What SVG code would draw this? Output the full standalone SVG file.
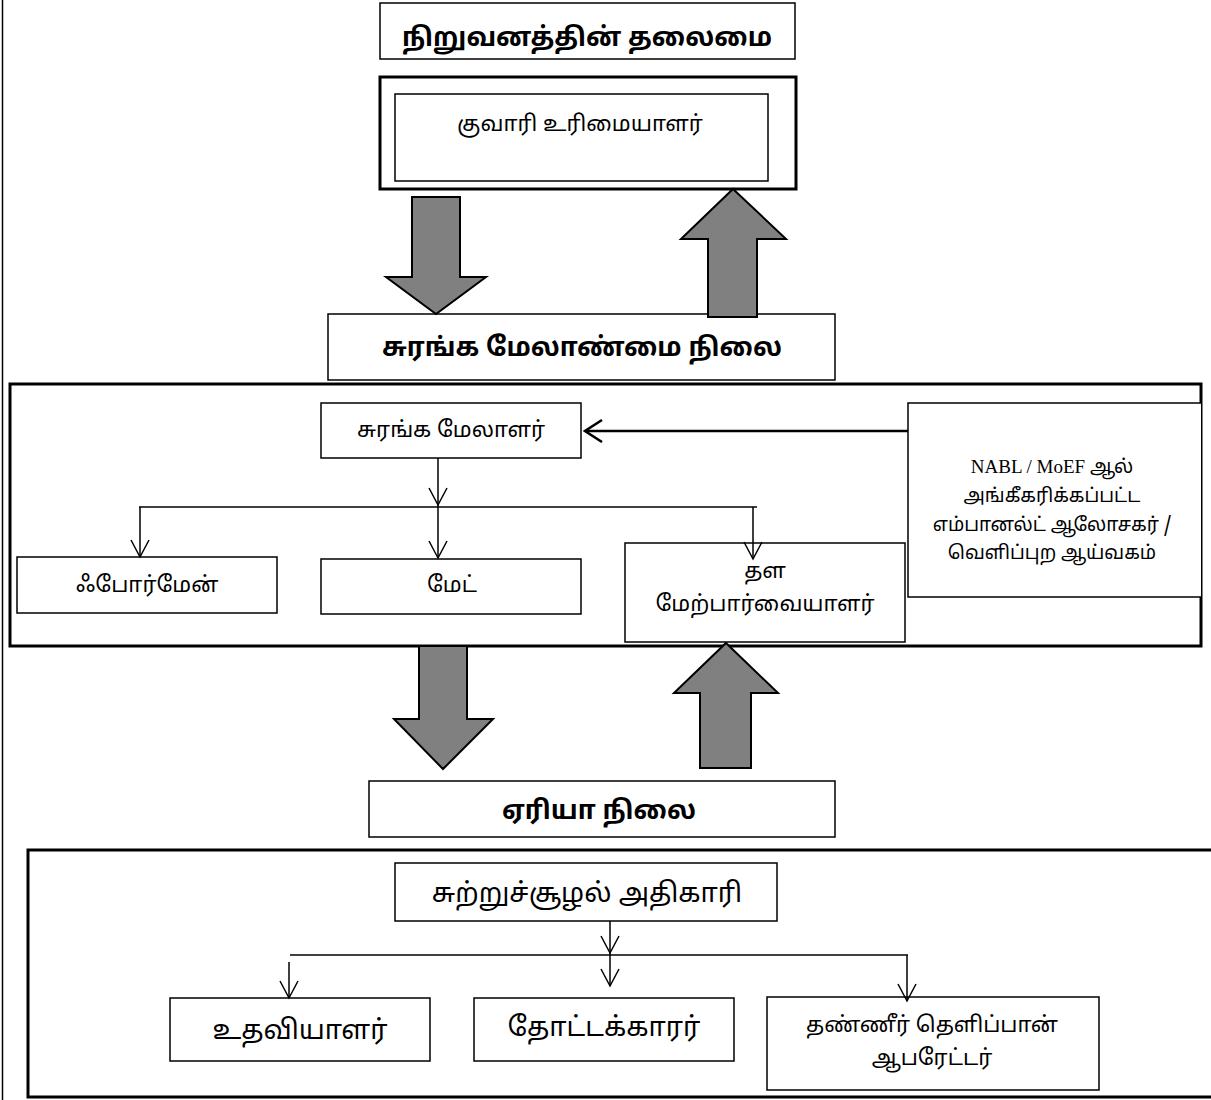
<svg xmlns="http://www.w3.org/2000/svg" width="1211" height="1100" viewBox="0 0 1211 1100">
<style>
.box{fill:#fff;stroke:#000;stroke-width:1.5}
.thick{fill:none;stroke:#000;stroke-width:3}
.ga{fill:#808080;stroke:#000;stroke-width:2}
.ln{fill:none;stroke:#000;stroke-width:1.5}
.t{font-family:'Noto Sans Tamil','Lohit Tamil','Noto Sans','DejaVu Sans',sans-serif;text-anchor:middle;fill:#000}
.b{font-weight:bold;font-size:26px}
.m{font-size:22px}
.l{font-size:27px}
.s{font-size:19px}
</style>
<defs>
<marker id="v" viewBox="0 0 20 20" refX="18" refY="10" markerWidth="20" markerHeight="20" orient="auto" markerUnits="userSpaceOnUse">
<path d="M1,1 L18,10 L1,19" fill="none" stroke="#000" stroke-width="1.5"/>
</marker>
<marker id="vb" viewBox="0 0 20 24" refX="18" refY="12" markerWidth="20" markerHeight="24" orient="auto" markerUnits="userSpaceOnUse">
<path d="M1,1 L18,12 L1,23" fill="none" stroke="#000" stroke-width="2.5"/>
</marker>
</defs>
<line x1="2.5" y1="0" x2="2.5" y2="1100" stroke="#000" stroke-width="1.5"/>

<g id="top-level">
<rect class="box" x="380" y="3" width="415" height="56"/>
<text class="t b" x="587" y="46">நிறுவனத்தின் தலைமை</text>
</g>
<g id="quarry-owner">
<rect class="thick" x="380" y="77" width="416" height="112"/>
<rect class="box" x="395" y="94" width="373" height="87"/>
<text class="t m" x="580" y="131">குவாரி உரிமையாளர்</text>
</g>
<g id="mine-management-level">
<rect class="box" x="328" y="314" width="507" height="66"/>
<text class="t b" x="582" y="356">சுரங்க மேலாண்மை நிலை</text>
</g>
<g id="mine-frame">
<rect class="thick" x="10" y="384" width="1191" height="262"/>
</g>
<g id="mine-manager">
<rect class="box" x="321" y="403" width="260" height="55"/>
<text class="t m" x="451" y="437">சுரங்க மேலாளர்</text>
</g>
<g id="consultant">
<path class="box" d="M1201,403 H908 V597 H1201"/>
<text class="t s" x="1052" y="473"><tspan font-family="'Liberation Serif',serif">NABL / MoEF</tspan> ஆல்</text>
<text class="t s" x="1052" y="502">அங்கீகரிக்கப்பட்ட</text>
<text class="t s" x="1052" y="531">எம்பானல்ட் ஆலோசகர் /</text>
<text class="t s" x="1052" y="559">வெளிப்புற ஆய்வகம்</text>
</g>
<g id="foreman">
<rect class="box" x="17" y="557" width="260" height="56"/>
<text class="t m" x="147" y="592">ஃபோர்மேன்</text>
</g>
<g id="mate">
<rect class="box" x="321" y="559" width="260" height="55"/>
<text class="t m" x="452" y="592">மேட்</text>
</g>
<g id="site-supervisor">
<rect class="box" x="625" y="543" width="280" height="99"/>
<text class="t m" x="765" y="578">தள</text>
<text class="t m" x="765" y="611">மேற்பார்வையாளர்</text>
</g>
<g id="area-level">
<rect class="box" x="369" y="781" width="466" height="56"/>
<text class="t b" x="599" y="819">ஏரியா நிலை</text>
</g>
<g id="area-frame">
<path class="thick" d="M1213,850 H28 V1097 H1213"/>
</g>
<g id="env-officer">
<rect class="box" x="395" y="863" width="382" height="58"/>
<text class="t l" x="587" y="902">சுற்றுச்சூழல் அதிகாரி</text>
</g>
<g id="assistant">
<rect class="box" x="170" y="998" width="260" height="63"/>
<text class="t l" x="300" y="1039">உதவியாளர்</text>
</g>
<g id="gardener">
<rect class="box" x="474" y="998" width="260" height="63"/>
<text class="t l" x="604" y="1036">தோட்டக்காரர்</text>
</g>
<g id="sprinkler-operator">
<rect class="box" x="767" y="997" width="332" height="93"/>
<text class="t m" x="932" y="1032">தண்ணீர் தெளிப்பான்</text>
<text class="t m" x="932" y="1065">ஆபரேட்டர்</text>
</g>

<g id="connectors">
<polygon class="ga" points="412,197 460,197 460,277 486,277 436,314 386,277 412,277"/>
<polygon class="ga" points="733,189 786,239 757,239 757,317 708,317 708,239 681,239"/>
<polygon class="ga" points="419,646 467,646 467,719 493,719 443,769 394,719 419,719"/>
<polygon class="ga" points="726,643 778,693 751,693 751,768 700,768 700,693 674,693"/>
<line x1="908" y1="431" x2="585" y2="431" stroke="#000" stroke-width="2.5" marker-end="url(#vb)"/>
<line class="ln" x1="438" y1="458" x2="438" y2="505" marker-end="url(#v)"/>
<line class="ln" x1="438" y1="505" x2="438" y2="558" marker-end="url(#v)"/>
<line class="ln" x1="139" y1="507" x2="757" y2="507"/>
<line class="ln" x1="140" y1="507" x2="140" y2="557" marker-end="url(#v)"/>
<line class="ln" x1="753" y1="507" x2="753" y2="559" marker-end="url(#v)"/>
<line class="ln" x1="610" y1="921" x2="610" y2="953" marker-end="url(#v)"/>
<line class="ln" x1="610" y1="953" x2="610" y2="986" marker-end="url(#v)"/>
<line class="ln" x1="290" y1="955" x2="908" y2="955"/>
<line class="ln" x1="289" y1="962" x2="289" y2="998" marker-end="url(#v)"/>
<line class="ln" x1="907" y1="955" x2="907" y2="1001" marker-end="url(#v)"/>
</g>
</svg>
